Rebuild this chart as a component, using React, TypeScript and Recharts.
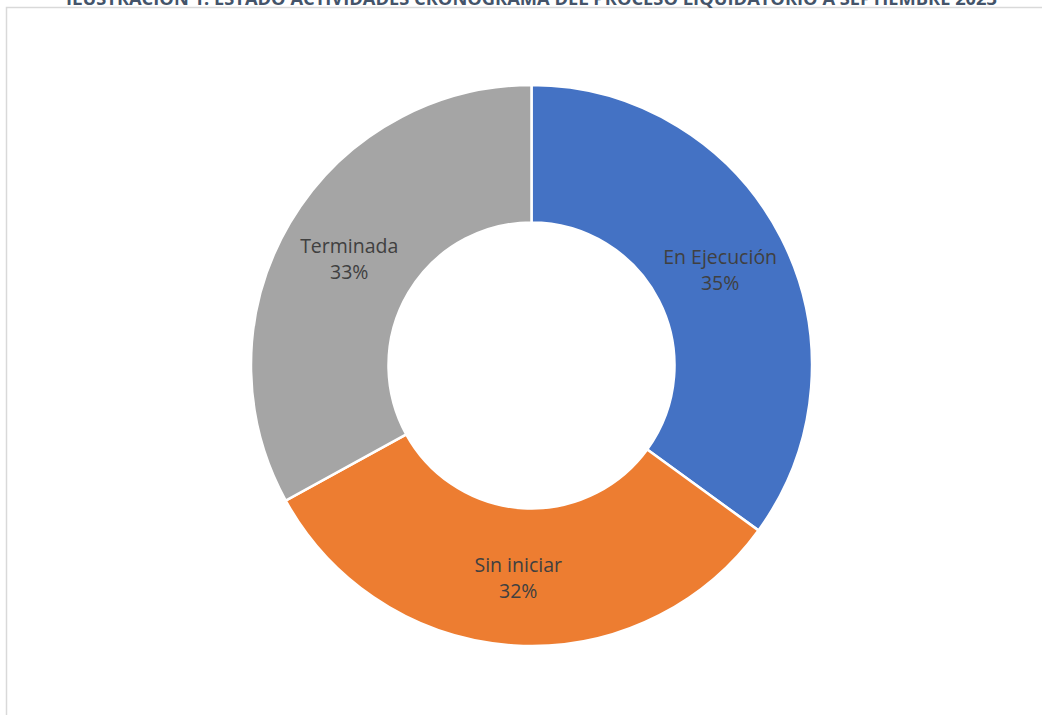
import React from "react";
import { PieChart, Pie, Cell } from "recharts";

const categories = ["En Ejecución", "Sin iniciar", "Terminada"];
const values = [35, 32, 33];
const colors = ["#4472C4", "#ED7D31", "#A5A5A5"];
const title = "ILUSTRACIÓN 1: ESTADO ACTIVIDADES CRONOGRAMA DEL PROCESO LIQUIDATORIO A SEPTIEMBRE 2023";

const data = categories.map((name, i) => ({ name, value: values[i] }));
const total = values.reduce((a, b) => a + b, 0);

const RAD = Math.PI / 180;

const renderLabel = (props: any) => {
  const { cx, cy, midAngle, innerRadius, outerRadius, index } = props;
  const r = (innerRadius + outerRadius) / 2;
  const x = cx + r * Math.cos(-midAngle * RAD);
  const y = cy + r * Math.sin(-midAngle * RAD);
  const pct = Math.round((values[index] / total) * 100) + "%";
  return (
    <text
      x={x}
      y={y}
      textAnchor="middle"
      fill="#404040"
      style={{ fontFamily: "'Segoe UI', 'Open Sans', sans-serif", fontSize: 19.5 }}
    >
      <tspan x={x} dy={-5}>{categories[index]}</tspan>
      <tspan x={x} dy={26}>{pct}</tspan>
    </text>
  );
};

export default function App() {
  return (
    <div style={{ position: "absolute", left: 0, top: 0, width: 1042, height: 715, background: "#fff" }}>
      <svg width={1042} height={715} style={{ position: "absolute", left: 0, top: 0 }}>
        <rect x={6.5} y={7.5} width={1100} height={800} fill="#fff" stroke="#d9d9d9" strokeWidth={1.5} />
        <text
          x={531.5}
          y={5}
          textAnchor="middle"
          fill="#44546A"
          textLength={931}
          lengthAdjust="spacingAndGlyphs"
          style={{ fontFamily: "'Segoe UI', 'Open Sans', sans-serif", fontSize: 17, fontWeight: 700 }}
        >
          {title}
        </text>
      </svg>
      <div style={{ position: "absolute", left: 0, top: 0 }}>
        <PieChart width={1042} height={715} margin={{ top: 0, right: 0, bottom: 0, left: 0 }}>
          <Pie
            data={data}
            dataKey="value"
            nameKey="name"
            cx={531.5}
            cy={365.5}
            innerRadius={143}
            outerRadius={280.5}
            startAngle={90}
            endAngle={-270}
            stroke="#ffffff"
            strokeWidth={2.5}
            label={renderLabel}
            labelLine={false}
            isAnimationActive={false}
          >
            {data.map((d, i) => (
              <Cell key={d.name} fill={colors[i]} />
            ))}
          </Pie>
        </PieChart>
      </div>
    </div>
  );
}
